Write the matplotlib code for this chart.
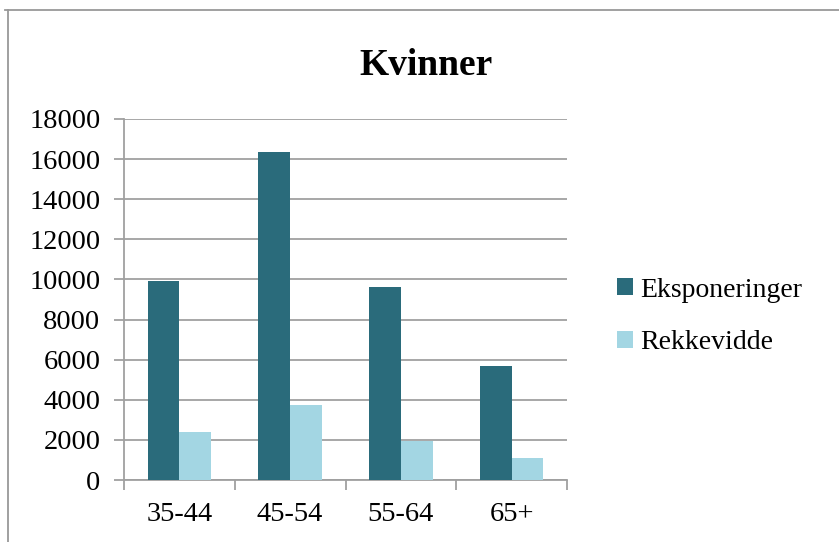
import matplotlib.pyplot as plt
import numpy as np
from matplotlib.lines import Line2D

# age groups and values (women)
groups = ['35-44', '45-54', '55-64', '65+']
eksponeringer = [9900, 16350, 9600, 5700]
rekkevidde = [2400, 3750, 1950, 1100]

dark = '#2a6b7b'
light = '#a3d6e3'
grid_col = '#a0a0a0'

plt.rcParams['font.family'] = ['Liberation Serif', 'DejaVu Serif']

fig = plt.figure(figsize=(8.39, 5.42), dpi=100)
ax = fig.add_axes([124/839, (542-480)/542, (567-124)/839, (480-119)/542])

x = np.arange(len(groups))
w = 0.286
ax.bar(x - w/2, eksponeringer, w, color=dark, label='Eksponeringer', zorder=3)
ax.bar(x + w/2, rekkevidde, w, color=light, label='Rekkevidde', zorder=3)

ax.set_xlim(-0.5, len(groups) - 0.5)
ax.set_ylim(0, 18000)
ax.set_yticks(np.arange(0, 18001, 2000))
ax.yaxis.grid(True, color=grid_col, linewidth=1.3)
ax.set_axisbelow(True)

# category labels in the middle, tick marks on the boundaries
ax.set_xticks(x)
ax.set_xticklabels(groups)
ax.set_xticks(np.arange(-0.5, len(groups)), minor=True)
ax.tick_params(axis='x', which='major', length=0, pad=16, labelsize=20.5)
ax.tick_params(axis='x', which='minor', length=7, width=1.3, color=grid_col, direction='out')
ax.tick_params(axis='y', length=7, width=1.3, color=grid_col, pad=10, labelsize=20.5)

for s in ['top', 'right']:
    ax.spines[s].set_visible(False)
for s in ['left', 'bottom']:
    ax.spines[s].set_color(grid_col)
    ax.spines[s].set_linewidth(1.3)

fig.text(0.508, 0.879, 'Kvinner', ha='center', va='center', fontsize=27, fontweight='bold')

ax.legend(loc='center left', bbox_to_anchor=(617/839, (542-316.5)/542),
          bbox_transform=fig.transFigure, frameon=False, fontsize=20,
          handlelength=0.57, handleheight=0.57, handletextpad=0.25,
          labelspacing=1.0, borderpad=0, borderaxespad=0)

# outer chart border (top and left edges)
fig.add_artist(Line2D([5/839, 1], [1 - 10/542, 1 - 10/542], color='#999999', linewidth=1.3,
                      transform=fig.transFigure))
fig.add_artist(Line2D([8/839, 8/839], [0, 1 - 10/542], color='#999999', linewidth=1.3,
                      transform=fig.transFigure))

fig.savefig('out.png', dpi=100)
